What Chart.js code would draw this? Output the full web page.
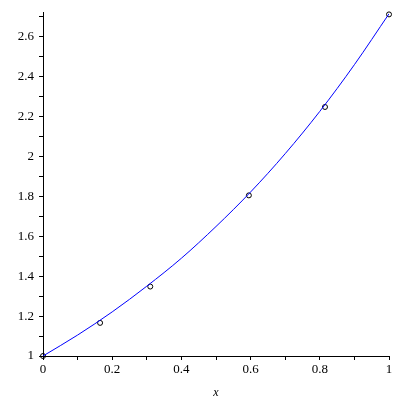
<!DOCTYPE html>
<html><head><meta charset="utf-8">
<script src="https://cdn.jsdelivr.net/npm/chart.js@4"></script>
<style>html,body{margin:0;padding:0;background:#fff}#w{width:400px;height:400px}</style>
</head><body><div id="w"><canvas id="c" width="400" height="400"></canvas></div>
<script>
const curveX = [0, 0.1, 0.2, 0.3, 0.4, 0.5, 0.6, 0.7, 0.8, 0.9, 1.0];
const curveY = [1.0, 1.105, 1.221, 1.35, 1.49, 1.649, 1.822, 2.014, 2.226, 2.46, 2.715];
const pointX = [0, 0.165, 0.31, 0.595, 0.815, 1.0];
const pointY = [1.0, 1.166, 1.348, 1.805, 2.248, 2.712];
const xTicks = [0, 0.1, 0.2, 0.3, 0.4, 0.5, 0.6, 0.7, 0.8, 0.9, 1.0];
const yTicks = [1.0, 1.1, 1.2, 1.3, 1.4, 1.5, 1.6, 1.7, 1.8, 1.9, 2.0, 2.1, 2.2, 2.3, 2.4, 2.5, 2.6, 2.7];
const xLabelTicks = [0, 0.2, 0.4, 0.6, 0.8, 1];
const yLabelTicks = [1, 1.2, 1.4, 1.6, 1.8, 2, 2.2, 2.4, 2.6];
const xTitle = 'x';

const near = (v, arr) => arr.some(a => Math.abs(a - v) < 1e-6);
const font = {family: '"Liberation Serif", "DejaVu Serif", serif', size: 13};

new Chart(document.getElementById('c'), {
  type: 'scatter',
  data: {
    datasets: [
      {
        data: curveX.map((x, i) => ({x, y: curveY[i]})),
        showLine: true, borderColor: '#0000ff', borderWidth: 1,
        pointRadius: 0, cubicInterpolationMode: 'monotone', fill: false
      },
      {
        data: pointX.map((x, i) => ({x, y: pointY[i]})),
        showLine: false, pointRadius: 2.5, pointBorderColor: '#000',
        pointBackgroundColor: 'rgba(0,0,0,0)', pointBorderWidth: 1, clip: false
      }
    ]
  },
  options: {
    responsive: false, animation: false, devicePixelRatio: 1,
    layout: {padding: {top: 12, right: 11, left: 0, bottom: 0}},
    plugins: {legend: {display: false}, tooltip: {enabled: false}},
    scales: {
      x: {
        type: 'linear', min: 0, max: 1,
        afterBuildTicks: s => { s.ticks = xTicks.map(v => ({value: v})); },
        afterFit: s => { s.height = 44; },
        ticks: {
          autoSkip: false, maxRotation: 0, color: '#000', font, padding: 2,
          callback: v => near(v, xLabelTicks) ? String(+v.toFixed(1)) : ''
        },
        grid: {drawOnChartArea: false, tickLength: 4, tickColor: '#000', tickWidth: 1},
        border: {color: '#000', width: 1},
        title: {display: true, text: xTitle, color: '#000', padding: {top: 2, bottom: 0},
          font: {family: '"Liberation Serif", serif', size: 12, style: 'italic'}}
      },
      y: {
        type: 'linear', min: 1, max: 2.72,
        afterBuildTicks: s => { s.ticks = yTicks.map(v => ({value: v})); },
        afterFit: s => { s.width = 43; },
        ticks: {
          autoSkip: false, color: '#000', font, padding: 5,
          callback: v => near(v, yLabelTicks) ? String(+v.toFixed(1)) : ''
        },
        grid: {drawOnChartArea: false, tickLength: 4, tickColor: '#000', tickWidth: 1},
        border: {color: '#000', width: 1}
      }
    }
  }
});
</script>
</body></html>
